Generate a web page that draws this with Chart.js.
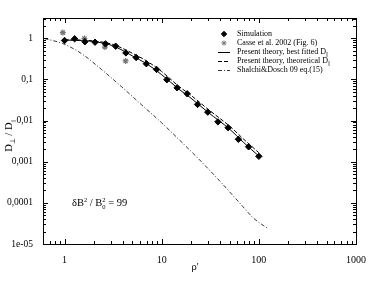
<!DOCTYPE html>
<html>
<head>
<meta charset="utf-8">
<script src="https://cdn.jsdelivr.net/npm/chart.js"></script>
<style>
 body{margin:0;background:#fff;}
</style>
</head>
<body>
<canvas id="miGrafico" width="374" height="289"></canvas>
<script>
// datos
var simX = [1, 1.27, 1.62, 2.06, 2.64, 3.36, 4.28, 5.46, 6.95, 8.86, 11.3, 14.4, 18.3, 23.4, 29.8, 37.9, 48.3, 61.6, 78.5, 100];
var simY = [0.88, 0.97, 0.82, 0.80, 0.73, 0.64, 0.44, 0.34, 0.24, 0.174, 0.098, 0.0625, 0.0447, 0.0246, 0.016, 0.0093, 0.0067, 0.0035, 0.0023, 0.00135];

var casseX = [0.96, 1.6, 2.6, 4.25];
var casseY = [1.37, 0.98, 0.61, 0.28];

var ajusteX = [1, 1.5, 2, 3, 4, 5, 7, 10, 15, 20, 30, 50, 70, 100];
var ajusteY = [0.9, 0.88, 0.83, 0.68, 0.5, 0.37, 0.24, 0.13, 0.058, 0.035, 0.0158, 0.0062, 0.0029, 0.00137];

var teoriaX = [1, 1.5, 2, 3, 4, 5, 7, 10, 15, 20, 30, 50, 70, 100];
var teoriaY = [0.92, 0.9, 0.86, 0.73, 0.56, 0.43, 0.28, 0.155, 0.068, 0.041, 0.0188, 0.0073, 0.0035, 0.00165];

var shalchiX = [0.623, 0.954, 1.49, 2.4, 3.84, 6.16, 9.89, 15.8, 25.4, 40.8, 65.3, 88.6, 123];
var shalchiY = [0.98, 0.744, 0.425, 0.174, 0.067, 0.0245, 0.009, 0.0031, 0.00102, 0.000314, 0.000092, 0.000042, 0.000024];

var xTicks = [1, 10, 100, 1000];
var xTickLabels = ['1', '10', '100', '1000'];
var yTicks = [1e-5, 1e-4, 1e-3, 1e-2, 0.1, 1];
var yTickLabels = ['1e-05', '0,0001', '0,001', '0,01', '0,1', '1'];

var leyenda = ['Simulation', 'Casse et al. 2002 (Fig. 6)', 'Present theory, best fitted D', 'Present theory, theoretical D', 'Shalchi&Dosch 09 eq.(15)'];
var leyendaSub = ['', '', '||', '||', ''];

var serif = '"Liberation Serif", "Times New Roman", serif';

function pares(xs, ys) {
	return xs.map(function (x, i) { return {x: x, y: ys[i]}; });
}

// dibuja trozos de texto: [texto, tamaño, dy, avanza]
function texto(ctx, x, y, trozos) {
	trozos.forEach(function (t) {
		ctx.font = t[1] + 'px ' + serif;
		ctx.fillText(t[0], x, y + t[2]);
		if (t[3] !== false) x += ctx.measureText(t[0]).width;
	});
	return x;
}
function ancho(ctx, trozos) {
	var w = 0;
	trozos.forEach(function (t) {
		ctx.font = t[1] + 'px ' + serif;
		if (t[3] !== false) w += ctx.measureText(t[0]).width;
	});
	return w;
}

// marcas hacia dentro en los cuatro lados
function marcas(ctx, scale, a, horiz) {
	var min = scale.min, max = scale.max;
	for (var k = Math.floor(Math.log10(min)); k <= Math.ceil(Math.log10(max)); k++) {
		for (var m = 1; m < 10; m++) {
			var v = m * Math.pow(10, k);
			if (v < min * 0.999 || v > max * 1.001) continue;
			var p = Math.round(scale.getPixelForValue(v)) + 0.5;
			var len = m === 1 ? 5 : 3;
			ctx.beginPath();
			if (horiz) {
				ctx.moveTo(p, a.bottom); ctx.lineTo(p, a.bottom - len);
				ctx.moveTo(p, a.top); ctx.lineTo(p, a.top + len);
			} else {
				ctx.moveTo(a.left, p); ctx.lineTo(a.left + len, p);
				ctx.moveTo(a.right, p); ctx.lineTo(a.right - len, p);
			}
			ctx.stroke();
		}
	}
}

var extras = {
	id: 'extras',
	afterDraw: function (chart) {
		var ctx = chart.ctx, a = chart.chartArea;
		ctx.save();
		ctx.strokeStyle = '#000';
		ctx.lineWidth = 1;
		ctx.strokeRect(Math.round(a.left) + 0.5, Math.round(a.top) + 0.5, Math.round(a.right - a.left), Math.round(a.bottom - a.top));
		marcas(ctx, chart.scales.x, a, true);
		marcas(ctx, chart.scales.y, a, false);

		// leyenda
		ctx.fillStyle = '#000';
		ctx.textBaseline = 'middle';
		var sx = a.right - 132, tx = a.right - 119;
		chart.data.datasets.forEach(function (ds, i) {
			var y = a.top + 16 + i * 9.1;
			ctx.save();
			if (ds.showLine) {
				ctx.strokeStyle = ds.borderColor;
				ctx.lineWidth = ds.borderWidth;
				ctx.setLineDash(ds.borderDash || []);
				ctx.beginPath();
				ctx.moveTo(sx - 6, Math.round(y) + 0.5);
				ctx.lineTo(sx + 6, Math.round(y) + 0.5);
				ctx.stroke();
			} else {
				ctx.fillStyle = ds.backgroundColor;
				ctx.strokeStyle = ds.borderColor;
				Chart.helpers.drawPoint(ctx, {pointStyle: ds.pointStyle, radius: ds.pointRadius * 0.85, rotation: 0, borderWidth: 1}, sx, y);
			}
			ctx.restore();
			var x = texto(ctx, tx, y, [[leyenda[i], 8, 0]]);
			if (leyendaSub[i]) texto(ctx, x, y, [[leyendaSub[i], 5.5, 2.5]]);
		});

		// anotacion
		ctx.textBaseline = 'alphabetic';
		texto(ctx, a.left + 29, a.top + 188, [['\u03b4B', 10.5, 0], ['2', 6.5, -4.5], [' / B', 10.5, 0], ['0', 6.5, 2.5, false], ['2', 6.5, -4.5], [' = 99', 10.5, 0]]);

		// titulo eje x
		ctx.textAlign = 'center';
		texto(ctx, 195, 270, [['\u03c1\'', 10.5, 0]]);
		ctx.textAlign = 'left';

		// titulo eje y
		var tr = [['D', 10.5, 0], ['\u22a5', 7, 2.5], [' / D', 10.5, 0], ['||', 6, 2.5]];
		var w = ancho(ctx, tr);
		ctx.translate(12, 136);
		ctx.rotate(-Math.PI / 2);
		texto(ctx, -w / 2, 0, tr);
		ctx.restore();
	}
};

var ctx = document.getElementById('miGrafico').getContext('2d');

var chart = new Chart(ctx, {
	type: 'scatter',
	data: {
		datasets: [{
			label: leyenda[0],
			data: pares(simX, simY),
			pointStyle: 'rectRot',
			pointRadius: 3.2,
			backgroundColor: '#000',
			borderColor: '#000',
			borderWidth: 1
		}, {
			label: leyenda[1],
			data: pares(casseX, casseY),
			pointStyle: 'star',
			pointRadius: 3,
			backgroundColor: '#777',
			borderColor: '#777',
			borderWidth: 1.2
		}, {
			label: leyenda[2],
			data: pares(ajusteX, ajusteY),
			showLine: true,
			pointRadius: 0,
			borderColor: '#000',
			borderWidth: 1,
			cubicInterpolationMode: 'monotone'
		}, {
			label: leyenda[3],
			data: pares(teoriaX, teoriaY),
			showLine: true,
			pointRadius: 0,
			borderColor: '#000',
			borderWidth: 1,
			borderDash: [4, 2],
			cubicInterpolationMode: 'monotone'
		}, {
			label: leyenda[4],
			data: pares(shalchiX, shalchiY),
			showLine: true,
			pointRadius: 0,
			borderColor: '#222',
			borderWidth: 0.9,
			borderDash: [4, 2, 1, 2],
			cubicInterpolationMode: 'monotone'
		}]
	},
	options: {
		responsive: false,
		animation: false,
		layout: {padding: {left: 0, right: 18, top: 18, bottom: 0}},
		plugins: {legend: {display: false}, tooltip: {enabled: false}},
		scales: {
			x: {
				type: 'logarithmic',
				min: 0.62,
				max: 1000,
				grid: {display: false},
				border: {display: false},
				afterBuildTicks: function (s) { s.ticks = xTicks.map(function (v) { return {value: v, major: true}; }); },
				afterFit: function (s) { s.height = 45; },
				ticks: {
					color: '#000',
					padding: 2,
					maxRotation: 0,
					autoSkip: false,
					font: {family: serif, size: 10},
					callback: function (v) { return xTickLabels[xTicks.indexOf(v)]; }
				}
			},
			y: {
				type: 'logarithmic',
				min: 1e-5,
				max: 3.1,
				grid: {display: false},
				border: {display: false},
				afterBuildTicks: function (s) { s.ticks = yTicks.map(function (v) { return {value: v, major: true}; }); },
				afterFit: function (s) { s.width = 43; },
				ticks: {
					color: '#000',
					padding: 2,
					autoSkip: false,
					font: {family: serif, size: 9.5},
					callback: function (v) { return yTickLabels[yTicks.indexOf(v)]; }
				}
			}
		}
	},
	plugins: [extras]
});
</script>
</body>
</html>
